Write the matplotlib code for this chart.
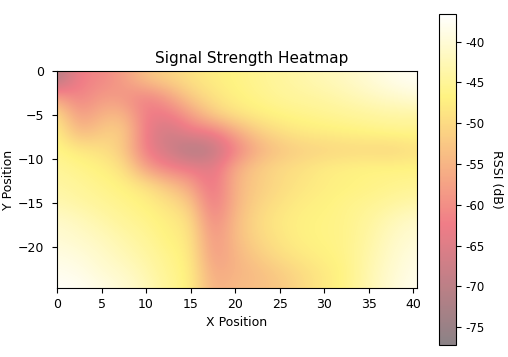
# -*- coding: utf-8 -*-
import matplotlib
matplotlib.use('Agg')
import matplotlib.pyplot as plt
from matplotlib.colors import LinearSegmentedColormap
import numpy as np

# RSSI, x = 0, 2.5 ... 40, rows y = -1, -3 ... -25
row_01 = [-72, -62, -61, -58, -53, -51, -49, -47.5, -46.5, -45.5, -44.5, -43.5, -42.5, -41.5, -40, -38.5, -37.5]
row_03 = [-57, -62, -58, -59, -62, -58, -52, -49, -47, -46, -45, -44.5, -44, -43, -42, -41, -40]
row_05 = [-49, -59, -55, -54, -63, -63, -58, -52, -49, -47.5, -46.5, -46, -45.5, -45, -44.5, -44, -44]
row_07 = [-47, -55, -52, -51, -63, -68, -63, -63, -57, -52, -49.5, -48, -47.5, -47, -46.5, -46, -46]
row_09 = [-46, -48, -49, -52, -63, -67, -73, -70, -62, -56, -53, -51.5, -51, -50.5, -50.5, -51, -49.5]
row_11 = [-45, -46, -47, -49, -58, -62, -63, -65, -56, -52, -50, -49, -47.5, -47, -46.5, -46.5, -46.5]
row_13 = [-44, -45, -46, -47, -49, -53, -57, -65, -55, -52, -50, -48.5, -47.5, -47, -46.5, -46, -45.5]
row_15 = [-43, -44, -45, -46, -47, -49, -52, -64, -55, -51, -49, -47.5, -47, -46, -45.5, -44.5, -43.5]
row_17 = [-41, -42, -43.5, -45, -46, -47.5, -49, -62, -54, -50, -48, -47, -46.5, -46, -44.5, -42.5, -41]
row_19 = [-40, -41, -42, -43.5, -45, -47, -48, -60, -54, -50.5, -48.5, -47, -46.5, -46, -44, -41.5, -40]
row_21 = [-39, -39.5, -41, -42.5, -44, -46, -47.5, -59, -55, -52, -49.5, -48, -47, -46, -43.5, -41, -39]
row_23 = [-38, -38.5, -40, -41, -43, -45.5, -47, -57, -55, -54, -52, -50, -48, -46.5, -43, -40.5, -38.5]
row_25 = [-37, -37.5, -38.5, -40, -42, -45, -47, -56, -54, -53.5, -52.5, -50, -48, -46, -43, -40, -38]

rssi = np.array([row_01, row_03, row_05, row_07, row_09, row_11, row_13,
                 row_15, row_17, row_19, row_21, row_23, row_25])
cbar_ticks = [-40, -45, -50, -55, -60, -65, -70, -75]
cbar_labels = ['-40', '-45', '-50', '-55', '-60', '-65', '-70', '-75']

# hot at half alpha, as it looks after the picture's colour shift
faded_hot = LinearSegmentedColormap.from_list('faded_hot', [
    (0.0, '#8b8286'), (0.365, '#f07d87'), (0.75, '#fff382'), (1.0, '#ffffff')])

W, H = 508, 357
fig = plt.figure(figsize=(W / 100, H / 100), dpi=100)
ax = fig.add_axes([57 / W, 1 - 288 / H, 360 / W, 217 / H])
cax = fig.add_axes([439 / W, 1 - 345 / H, 17 / W, 331 / H])

im = ax.imshow(rssi, cmap=faded_hot, interpolation='bicubic', aspect='auto',
               vmin=-77.2, vmax=-36.6, extent=(-1.25, 41.25, -26, 0))
ax.set_xlim(0, 40.4)
ax.set_ylim(-24.7, 0)
ax.set_title('Signal Strength Heatmap', fontsize=11, pad=6, x=0.542)
ax.set_xlabel('X Position', fontsize=9, labelpad=3)
ax.set_ylabel('Y Position', fontsize=9, labelpad=2)
ax.tick_params(labelsize=9, pad=4)
ax.tick_params(axis='y', pad=6)

cbar = fig.colorbar(im, cax=cax)
cbar.set_ticks(cbar_ticks, labels=cbar_labels)
cbar.ax.tick_params(labelsize=8.5, pad=3.5)
cbar.set_label('RSSI (dB)', rotation=270, fontsize=9, labelpad=13)

fig.savefig('out.png', dpi=100)
